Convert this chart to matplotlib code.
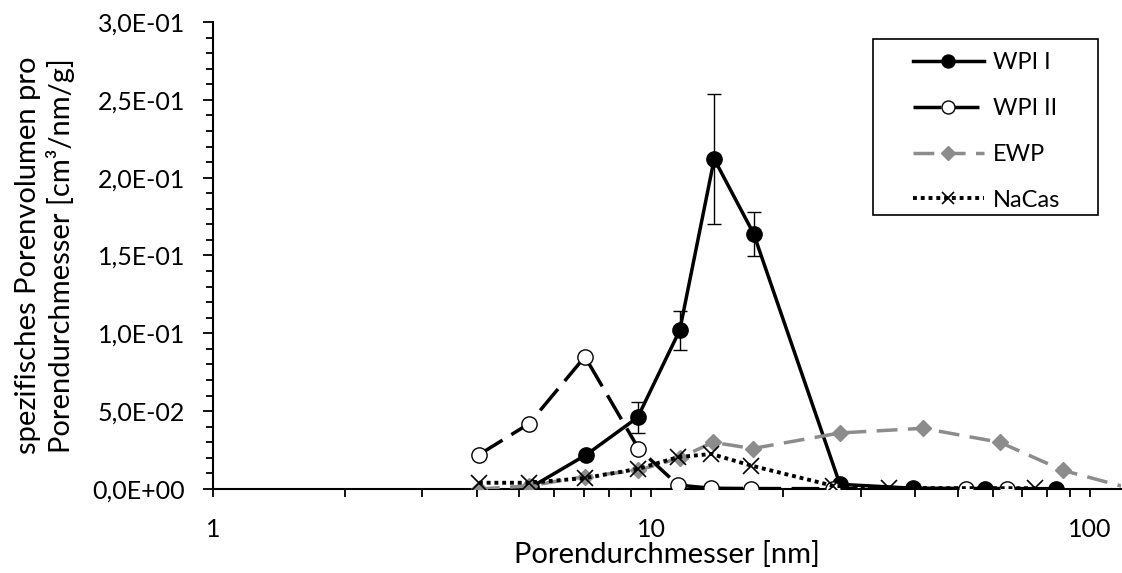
import matplotlib
matplotlib.use("Agg")
import matplotlib.pyplot as plt
from matplotlib.patches import Rectangle
from matplotlib.ticker import FuncFormatter, LogLocator, MultipleLocator, NullFormatter

plt.rcParams["font.family"] = ["Lato", "DejaVu Sans"]

labels = ["WPI I", "WPI II", "EWP", "NaCas"]

# WPI I
wpi1_x = [5.3, 7.1, 9.3, 11.6, 13.9, 17.1, 26.9, 39.5, 57.6, 83.6]
wpi1_y = [0.001, 0.022, 0.046, 0.102, 0.212, 0.164, 0.003, 0.0005, 0.0003, 0.0002]
wpi1_err = [0.0005, 0.002, 0.010, 0.0125, 0.042, 0.014, 0.001, 0.0, 0.0, 0.0]

# WPI II
wpi2_x = [4.04, 5.26, 7.05, 9.34, 11.5, 13.7, 16.9, 26.0, 52.1, 64.7]
wpi2_y = [0.022, 0.042, 0.085, 0.026, 0.0025, 0.0005, 0.0003, 0.0002, 0.0002, 0.0002]

# EWP
ewp_x = [4.04, 5.26, 7.05, 9.34, 11.6, 13.8, 17.0, 26.9, 41.6, 62.3, 86.7, 125.0]
ewp_y = [0.0, 0.002, 0.008, 0.012, 0.020, 0.030, 0.026, 0.036, 0.039, 0.030, 0.012, 0.0]

# NaCas
nacas_x = [4.04, 5.26, 7.05, 9.34, 11.5, 13.7, 16.9, 26.0, 34.8, 74.9]
nacas_y = [0.004, 0.004, 0.007, 0.013, 0.0205, 0.0225, 0.015, 0.002, 0.0006, 0.0005]

fig = plt.figure(figsize=(11.22, 5.73), dpi=100)
ax = fig.add_axes([213 / 1122, 1 - 489 / 573, 908 / 1122, 467 / 573])

eb = ax.errorbar(wpi1_x, wpi1_y, yerr=wpi1_err, color="black", lw=2.5, marker="o",
                 ms=11, mfc="black", mec="black", ecolor="black", elinewidth=1,
                 capsize=5, capthick=1, zorder=3)
l2, = ax.plot(wpi2_x, wpi2_y, color="black", lw=2.5, dashes=(8, 3), marker="o", ms=11,
              mfc="white", mec="black", mew=1, zorder=4)
l3, = ax.plot(ewp_x, ewp_y, color="#8c8c8c", lw=2.5, dashes=(6, 3), marker="D", ms=8,
              mfc="#8c8c8c", mec="#8c8c8c", zorder=5)
l4, = ax.plot(nacas_x, nacas_y, color="black", lw=2.8, linestyle=(0, (1, 1)), marker="x",
              ms=11, mew=1.2, zorder=6)

ax.set_xscale("log")
ax.set_xlim(1, 117.7)
ax.set_ylim(0, 0.3)

ax.xaxis.set_major_locator(LogLocator(base=10, numticks=5))
ax.xaxis.set_minor_locator(LogLocator(base=10, subs=range(2, 10), numticks=20))
ax.xaxis.set_minor_formatter(NullFormatter())
ax.xaxis.set_major_formatter(FuncFormatter(lambda v, p: f"{v:g}"))
ax.yaxis.set_major_locator(MultipleLocator(0.05))
ax.yaxis.set_minor_locator(MultipleLocator(0.01))
ax.yaxis.set_major_formatter(FuncFormatter(lambda v, p: f"{v:.1E}".replace(".", ",")))

ax.tick_params(axis="both", which="major", direction="out", width=1.3, labelsize=18,
               color="black")
ax.tick_params(axis="x", which="both", length=6, width=1.3, pad=15)
ax.tick_params(axis="y", which="major", length=7, pad=13)
ax.tick_params(axis="y", which="minor", length=5, width=1.3)

for side in ["top", "right"]:
    ax.spines[side].set_visible(False)
for side in ["left", "bottom"]:
    ax.spines[side].set_linewidth(1.5)

ax.set_xlabel("Porendurchmesser [nm]", fontsize=21, labelpad=0)
ax.set_ylabel("spezifisches Porenvolumen pro\nPorendurchmesser [cm³/nm/g]", fontsize=21,
              labelpad=13)

# legend frame drawn separately so the padding can follow the reference
ax.add_patch(Rectangle((0.727, 0.5867), 0.2477, 0.3769, transform=ax.transAxes,
                       facecolor="white", edgecolor="black", lw=1.2, zorder=9,
                       clip_on=False))
leg = ax.legend(handles=[eb[0], l2, l3, l4], labels=labels, loc="upper left",
                bbox_to_anchor=(0.771, 0.935), borderaxespad=0, borderpad=0,
                fontsize=17, handlelength=3, handletextpad=0.4, labelspacing=1.05,
                markerscale=0.85, frameon=False)
leg.set_zorder(10)

fig.savefig("out.png", dpi=100)
